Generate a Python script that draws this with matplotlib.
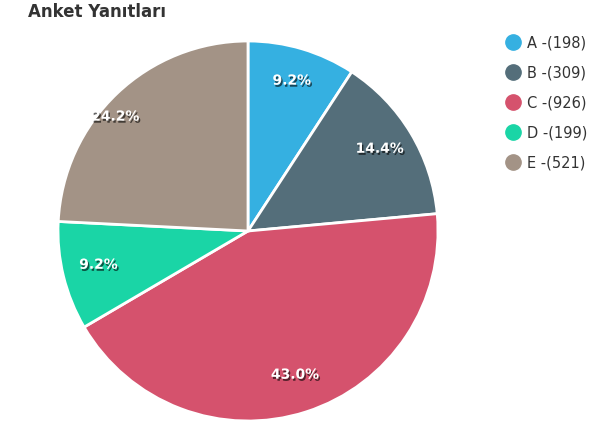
import matplotlib
matplotlib.use("Agg")
import matplotlib.pyplot as plt
import matplotlib.patheffects as pe
from matplotlib.lines import Line2D

categories = ["A", "B", "C", "D", "E"]
values = [198, 309, 926, 199, 521]
colors = ["#35b0e1", "#546e7a", "#d5526d", "#1ad5a6", "#a39386"]
title = "Anket Yanıtları"

W, H = 610, 427
fig = plt.figure(figsize=(W / 100, H / 100), dpi=100)
cx, cy, r = 248, 232, 190
ax = fig.add_axes([(cx - r) / W, (H - cy - r) / H, 2 * r / W, 2 * r / H])
wedges, texts, autotexts = ax.pie(
    values, colors=colors, startangle=90, counterclock=False,
    autopct="%.1f%%", pctdistance=0.81, radius=1,
    wedgeprops=dict(edgecolor="white", linewidth=2),
    textprops=dict(color="white", fontsize=10, fontweight="bold"),
)
for t in autotexts:
    t.set_path_effects([pe.withSimplePatchShadow(offset=(1, -1.5), shadow_rgbFace="black", alpha=0.6)])
    x, y = t.get_position()
    t.set_position((x, y + 0.015))
# E label sits a bit further left in the reference
x, y = autotexts[4].get_position()
autotexts[4].set_position((x * 1.25, y))
ax.set_xlim(-1, 1)
ax.set_ylim(-1, 1)
ax.set_aspect("equal")
ax.axis("off")

fig.text(28 / W, 1 - 12 / H, title, fontsize=12, fontweight="heavy", color="#333333", va="center", ha="left")

for i, (c, v, col) in enumerate(zip(categories, values, colors)):
    y = 1 - (43 + 30 * i) / H
    fig.add_artist(Line2D([513 / W], [y], marker="o", markersize=11, color=col, transform=fig.transFigure))
    fig.text(527 / W, y, f"{c} -({v})", fontsize=10.5, color="#333333", va="center", ha="left")

fig.savefig("out.png", dpi=100)
